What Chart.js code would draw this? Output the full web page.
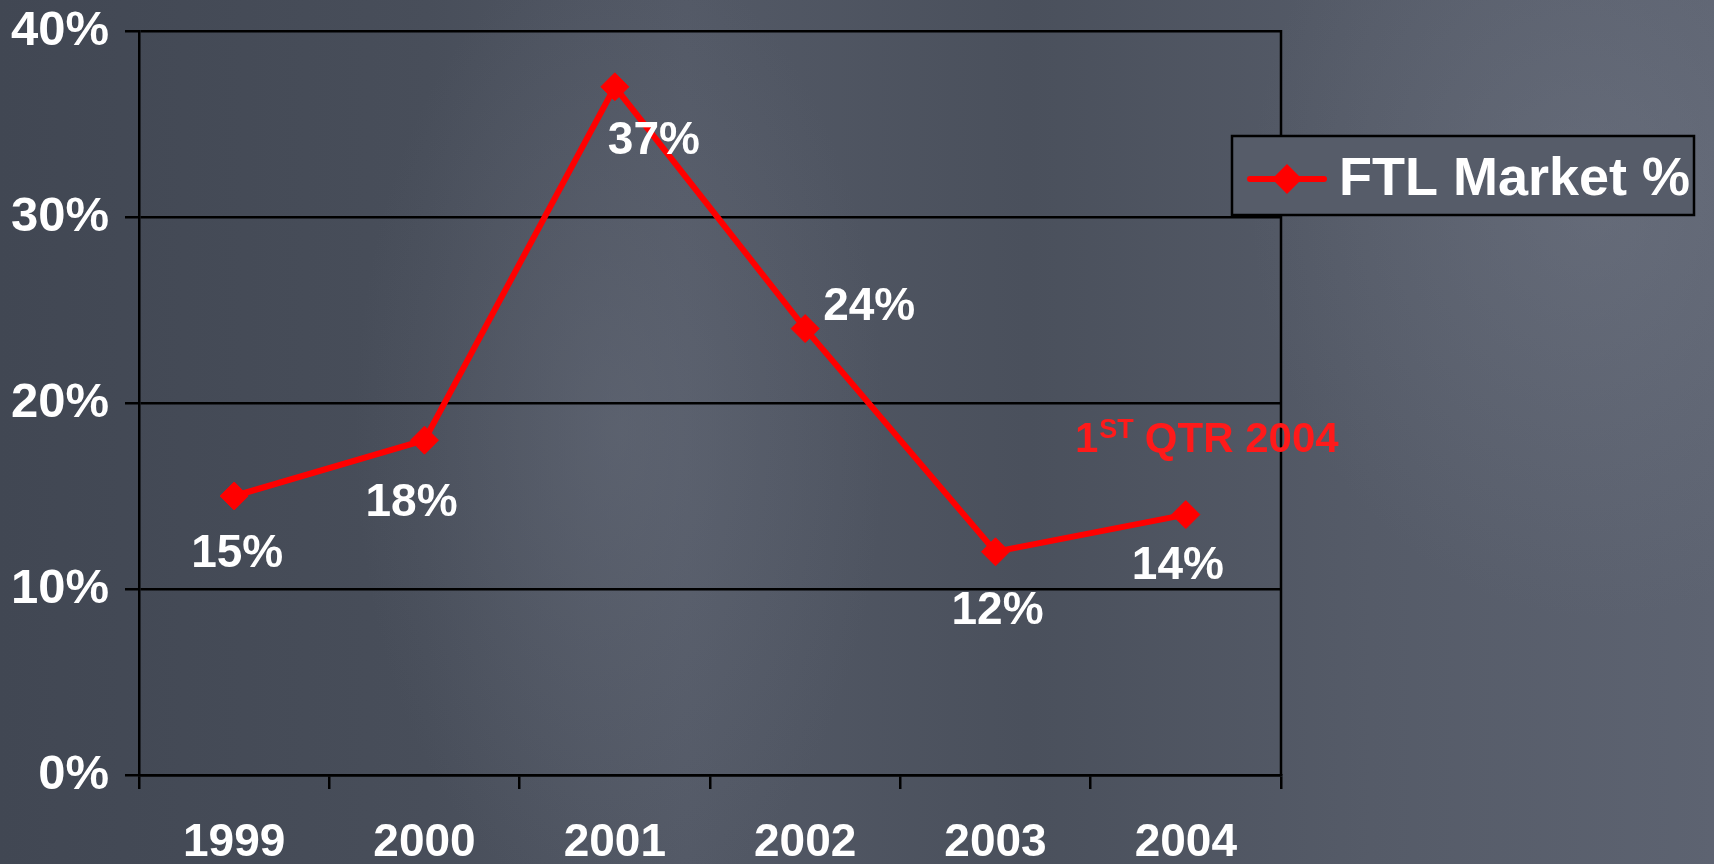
<!DOCTYPE html>
<html>
<head>
<meta charset="utf-8">
<script src="https://cdn.jsdelivr.net/npm/chart.js@4.4.1/dist/chart.umd.min.js"></script>
<style>
  html, body { margin: 0; padding: 0; }
  body {
    width: 1714px; height: 864px; overflow: hidden;
    background:
      radial-gradient(ellipse 380px 700px at 620px 430px, rgba(112,118,132,0.35), rgba(112,118,132,0) 70%),
      radial-gradient(ellipse 500px 600px at 1600px 200px, rgba(120,126,140,0.35), rgba(120,126,140,0) 70%),
      linear-gradient(90deg, #414753 0%, #484e5a 25%, #535966 40%, #4a505c 60%, #555b68 80%, #5d6371 100%);
  }
  canvas { display: block; }
</style>
</head>
<body>
<canvas id="myChart" width="1714" height="864"></canvas>
<script>
var years = ['1999', '2000', '2001', '2002', '2003', '2004']
var ftlMarket = [15, 18, 37, 24, 12, 14]
var yTicks = [0, 10, 20, 30, 40]
var seriesName = 'FTL Market %'
// where each value label sits relative to its point
var labelOffsets = [[3, 58], [-13, 63], [39, 55], [64, -21], [2, 60], [-8, 52]]

var FONT = '"Liberation Sans", Arial, sans-serif'

var extras = {
  id: 'extras',
  beforeDatasetsDraw: function (chart) {
    // right edge of the plot frame
    var c = chart.ctx
    var area = chart.chartArea
    c.save()
    c.strokeStyle = '#000'
    c.lineWidth = 2.5
    c.beginPath()
    c.moveTo(area.right, area.top - 1)
    c.lineTo(area.right, area.bottom)
    c.stroke()
    c.restore()
  },
  afterDatasetsDraw: function (chart) {
    var ctx = chart.ctx
    var meta = chart.getDatasetMeta(0)
    ctx.save()
    ctx.fillStyle = '#fff'
    ctx.font = 'bold 46px ' + FONT
    ctx.textAlign = 'center'
    ctx.textBaseline = 'middle'
    meta.data.forEach(function (pt, i) {
      var off = labelOffsets[i]
      ctx.fillText(ftlMarket[i] + '%', pt.x + off[0], pt.y + off[1])
    })

    // note over the last point
    var area = chart.chartArea
    var x = area.right - 206
    var y = area.top + 421
    ctx.fillStyle = '#ff1a1a'
    ctx.textAlign = 'left'
    ctx.textBaseline = 'alphabetic'
    ctx.font = 'bold 42px ' + FONT
    ctx.fillText('1', x, y)
    x += ctx.measureText('1').width + 1
    ctx.font = 'bold 27px ' + FONT
    ctx.fillText('ST', x, y - 14)
    x += ctx.measureText('ST').width + 11
    ctx.font = 'bold 42px ' + FONT
    ctx.fillText('QTR 2004', x, y)

    // legend box, opaque so the frame line doesn't show through
    var bx = 1232, by = 136, bw = 462, bh = 79
    ctx.fillStyle = '#565c69'
    ctx.fillRect(bx, by, bw, bh)
    ctx.strokeStyle = '#000'
    ctx.lineWidth = 2.5
    ctx.strokeRect(bx, by, bw, bh)
    var my = by + 43
    ctx.strokeStyle = '#ff0000'
    ctx.lineWidth = 6
    ctx.lineCap = 'round'
    ctx.beginPath()
    ctx.moveTo(1250, my)
    ctx.lineTo(1324, my)
    ctx.stroke()
    ctx.fillStyle = '#ff0000'
    ctx.beginPath()
    ctx.moveTo(1287 - 15, my)
    ctx.lineTo(1287, my - 15)
    ctx.lineTo(1287 + 15, my)
    ctx.lineTo(1287, my + 15)
    ctx.closePath()
    ctx.fill()
    ctx.fillStyle = '#fff'
    ctx.font = 'bold 54px ' + FONT
    ctx.textBaseline = 'middle'
    ctx.fillText(seriesName, 1339, my + 1)
    ctx.restore()
  }
}

var ctx = document.getElementById('myChart')
var myChart = new Chart(ctx, {
  type: 'line',
  data: {
    labels: years,
    datasets: [{
      label: seriesName,
      data: ftlMarket,
      borderColor: '#ff0000',
      backgroundColor: '#ff0000',
      borderWidth: 6,
      pointStyle: 'rectRot',
      pointRadius: 14,
      pointBorderWidth: 1,
      tension: 0
    }]
  },
  options: {
    responsive: false,
    animation: false,
    layout: { padding: { top: 31, right: 433, left: 0, bottom: 0 } },
    plugins: {
      legend: { display: false },
      tooltip: { enabled: false }
    },
    scales: {
      x: {
        offset: true,
        grid: {
          offset: true,
          drawOnChartArea: false,
          lineWidth: 2.5,
          tickColor: '#000',
          tickLength: 14
        },
        border: { display: true, color: '#000', width: 2.5 },
        ticks: {
          color: '#fff',
          font: { family: FONT, size: 46, weight: 'bold' },
          padding: 27,
          maxRotation: 0
        },
        afterFit: function (scale) {
          scale.height = 89
          scale.paddingLeft = 0
          scale.paddingRight = 0
        }
      },
      y: {
        min: 0,
        max: 40,
        afterBuildTicks: function (scale) {
          scale.ticks = yTicks.map(function (v) { return { value: v } })
        },
        grid: {
          color: '#000',
          lineWidth: 2.5,
          tickColor: '#000',
          tickLength: 14
        },
        border: { display: true, color: '#000', width: 2.5 },
        ticks: {
          color: '#fff',
          font: { family: FONT, size: 49, weight: 'bold' },
          padding: 16,
          callback: function (v) { return v + '%' }
        },
        afterFit: function (scale) {
          scale.width = 139
          scale.paddingTop = 0
          scale.paddingBottom = 0
        }
      }
    }
  },
  plugins: [extras]
})
</script>
</body>
</html>
